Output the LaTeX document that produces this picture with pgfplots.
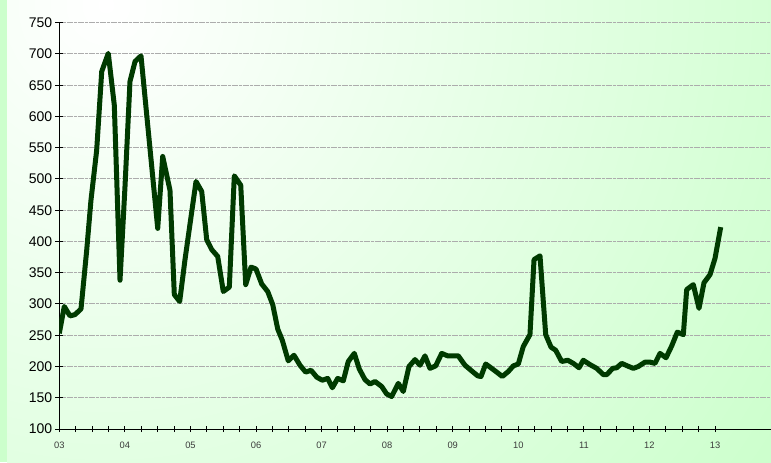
\documentclass[border=0pt]{standalone}
\usepackage{pgfplots}
\pgfplotsset{compat=1.18}
\usepackage{fontspec}
\setmainfont{Liberation Sans}
\definecolor{bggreen}{RGB}{204,255,204}
\definecolor{linegreen}{RGB}{0,58,0}
\definecolor{gridgray}{RGB}{172,172,172}
\definecolor{labgray}{RGB}{60,60,60}

\begin{document}
\begin{tikzpicture}
% 1px = 0.75pt, axis origin at (59.3px, 429px)
\path[use as bounding box] (-44.475pt,-24.75pt) rectangle (533.775pt,321.75pt);
\fill[bggreen] (-44.475pt,-24.75pt) rectangle (533.775pt,321.75pt);
\begin{scope}
  \clip (-39.2pt,-24.75pt) rectangle (533.775pt,321.75pt);
  \shade[inner color=white, outer color=bggreen] (35pt,318pt) circle (610pt);
\end{scope}

\begin{axis}[
    at={(0pt,0pt)}, anchor=south west,
    scale only axis,
    width=533.775pt, height=304.725pt,
    xmin=0, xmax=10.854, ymin=100, ymax=750,
    axis lines=left,
    axis line style={-, black, line width=0.75pt},
    xtick={0,1,...,10},
    xticklabels={03,04,05,06,07,08,09,10,11,12,13},
    minor x tick num=3,
    ytick={100,150,...,750},
    ymajorgrids,
    major grid style={gridgray, line width=0.75pt, dash pattern=on 2.25pt off 0.5pt},
    tick align=center,
    x tick style={black, line width=0.75pt, /pgfplots/major tick length=4.5pt, /pgfplots/minor tick length=4.5pt},
    y tick style={black, line width=0.75pt, /pgfplots/major tick length=6pt},
    xticklabel style={font=\fontsize{7}{8}\selectfont, text=labgray, inner sep=0pt, anchor=north, yshift=-7.5pt},
    yticklabel style={font=\fontsize{10.5}{12}\selectfont, inner sep=0pt, anchor=east, xshift=-3pt},
    /pgf/number format/assume math mode=true,
]
\addplot[linegreen, line width=3.75pt, line join=round] table {
x y
0.000 253
0.076 296
0.163 281
0.239 283
0.331 292
0.418 386
0.483 466
0.570 546
0.647 672
0.747 701
0.839 618
0.926 338
1.002 488
1.078 656
1.155 688
1.246 697
1.501 421
1.577 536
1.688 482
1.754 315
1.836 304
1.917 371
2.085 496
2.172 480
2.248 403
2.325 387
2.416 376
2.501 320
2.593 327
2.669 505
2.767 490
2.843 331
2.924 359
3.000 356
3.087 332
3.178 320
3.255 299
3.331 260
3.401 242
3.492 209
3.579 218
3.671 202
3.758 191
3.839 194
3.926 183
4.011 178
4.093 181
4.164 166
4.246 181
4.331 177
4.407 208
4.499 221
4.575 196
4.662 179
4.739 172
4.815 176
4.917 168
4.993 156
5.069 152
5.170 173
5.246 160
5.333 200
5.425 211
5.501 202
5.577 217
5.653 197
5.740 201
5.832 221
5.923 217
6.085 217
6.187 202
6.289 193
6.381 185
6.431 184
6.503 204
6.595 197
6.671 191
6.756 184
6.848 192
6.924 201
7.000 204
7.076 232
7.178 251
7.240 371
7.331 377
7.418 251
7.499 231
7.570 226
7.662 208
7.754 210
7.839 205
7.926 198
7.991 210
8.094 203
8.196 197
8.297 187
8.349 187
8.440 197
8.501 198
8.577 205
8.663 201
8.754 197
8.830 200
8.932 207
9.009 207
9.085 205
9.161 221
9.253 214
9.340 233
9.425 255
9.517 251
9.568 323
9.669 331
9.756 293
9.832 334
9.924 347
10.000 373
10.087 423
};
\end{axis}
\end{tikzpicture}
\end{document}
